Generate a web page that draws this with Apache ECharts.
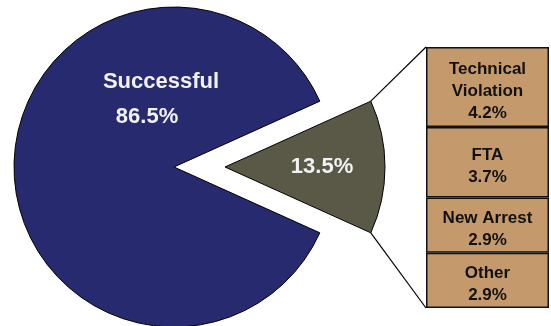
<!DOCTYPE html>
<html>
<head>
<meta charset="utf-8">
<script src="https://cdn.jsdelivr.net/npm/echarts@6/dist/echarts.min.js"></script>
<style>html,body{margin:0;padding:0;background:#fff}#c{width:551px;height:326px}</style>
</head>
<body>
<div id="c"></div>
<script>
// Data
const pieNames = ['Unsuccessful', 'Successful'];
const pieValues = [13.5, 86.5];
const barNames = ['Technical\nViolation', 'FTA', 'New Arrest', 'Other'];
const barValues = [4.2, 3.7, 2.9, 2.9];

const cx = 174, cy = 167, R = 160, off = 51;
const gridL = 426, gridT = 47, gridW = 123, gridH = 261;
const half = pieValues[0] / 100 * Math.PI;
const startAngle = pieValues[0] / 100 * 180;
const total = barValues.reduce((a, b) => a + b, 0);

const colors = {blue: '#282A70', olive: '#5A5847', tan: '#C49A6C'};

const p1 = [cx + off + R * Math.cos(half), cy - R * Math.sin(half)];
const p2 = [cx + off + R * Math.cos(half), cy + R * Math.sin(half)];

// bar series: bottom first
const barSeries = [];
for (let i = barValues.length - 1; i >= 0; i--) {
  barSeries.push({
    type: 'bar', stack: 'x', name: barNames[i], data: [barValues[i]],
    barWidth: '100%', silent: true,
    itemStyle: {color: colors.tan, borderColor: '#111', borderWidth: 1.5},
    label: {show: true, position: 'inside', color: '#111', fontWeight: 'bold', offset: [0, 4],
      fontFamily: 'Liberation Sans, Arial, sans-serif', fontSize: 17, lineHeight: 22,
      formatter: () => barNames[i] + '\n' + barValues[i].toFixed(1) + '%'}
  });
}

const txt = (x, y, text, size) => ({
  type: 'text', x: x, y: y, z: 100, silent: true,
  style: {text: text, fill: '#F2F2F5', fontSize: size, fontWeight: 'bold',
    fontFamily: '"Liberation Sans", Arial, sans-serif', align: 'center', verticalAlign: 'middle'}
});

const chart = echarts.init(document.getElementById('c'), null, {renderer: 'canvas'});
chart.setOption({
  animation: false,
  backgroundColor: '#fff',
  grid: {left: gridL, top: gridT, width: gridW, height: gridH},
  xAxis: {type: 'category', data: ['x'], show: false},
  yAxis: {type: 'value', min: 0, max: total, show: false},
  series: [
    {
      type: 'pie', center: [cx, cy], radius: R, startAngle: startAngle, clockwise: true,
      selectedMode: 'single', selectedOffset: off, silent: true,
      label: {show: false}, labelLine: {show: false},
      itemStyle: {borderColor: '#000', borderWidth: 1},
      data: [
        {name: pieNames[0], value: pieValues[0], selected: true, itemStyle: {color: colors.olive}},
        {name: pieNames[1], value: pieValues[1], itemStyle: {color: colors.blue}}
      ]
    },
    ...barSeries
  ],
  graphic: [
    {type: 'line', z: 100, shape: {x1: p1[0], y1: p1[1], x2: gridL, y2: gridT}, style: {stroke: '#000', lineWidth: 1.2}},
    {type: 'line', z: 100, shape: {x1: p2[0], y1: p2[1], x2: gridL, y2: gridT + gridH}, style: {stroke: '#000', lineWidth: 1.2}},
    txt(161, 82, pieNames[1], 22),
    txt(147, 117, pieValues[1].toFixed(1) + '%', 22),
    txt(322, 167, pieValues[0].toFixed(1) + '%', 22)
  ]
});
</script>
</body>
</html>
